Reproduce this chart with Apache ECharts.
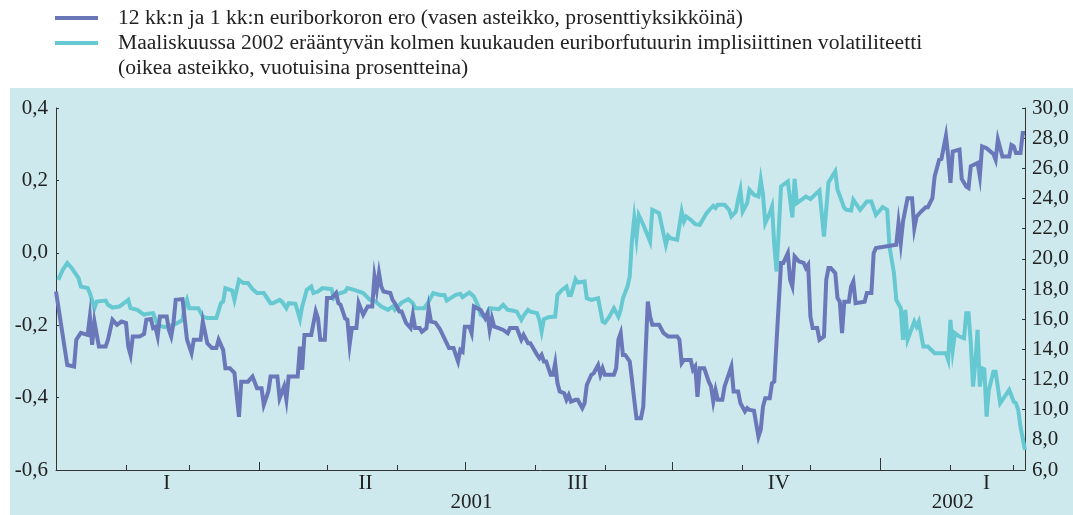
<!DOCTYPE html>
<html>
<head>
<meta charset="utf-8">
<script src="https://cdn.jsdelivr.net/npm/echarts@6/dist/echarts.min.js"></script>
<style>html,body{margin:0;padding:0;background:#fff}#c{width:1073px;height:515px}</style>
</head>
<body>
<div id="c"></div>
<script>
// ---- DATA ----
const startDate = '2001-01-01';
const endDate = '2002-03-06';
const spreadName = '12 kk:n ja 1 kk:n euriborkoron ero (vasen asteikko, prosenttiyksikköinä)';
const volName = 'Maaliskuussa 2002 erääntyvän kolmen kuukauden euriborfutuurin implisiittinen volatiliteetti';
const volNameLine2 = '(oikea asteikko, vuotuisina prosentteina)';

// [days since startDate, percentage points] – left scale
const spreadData = [
[0,-0.107],[5,-0.31],[8,-0.314],[9,-0.24],[11,-0.221],[14,-0.227],[15,-0.176],[16,-0.254],[17,-0.19],[19,-0.259],
[22,-0.259],[23,-0.24],[25,-0.185],[27,-0.199],[29,-0.19],[31,-0.194],[32,-0.259],[33,-0.282],[34,-0.231],[37,-0.231],
[39,-0.224],[40,-0.185],[42,-0.183],[43,-0.208],[44,-0.205],[45,-0.231],[46,-0.176],[49,-0.176],[50,-0.213],[51,-0.231],
[52,-0.194],[53,-0.13],[56,-0.128],[58,-0.24],[60,-0.277],[61,-0.24],[64,-0.24],[65,-0.19],[67,-0.25],[69,-0.263],
[71,-0.263],[72,-0.24],[74,-0.268],[75,-0.319],[77,-0.319],[79,-0.332],[81,-0.453],[82,-0.356],[85,-0.356],[87,-0.342],
[89,-0.374],[91,-0.374],[92,-0.42],[94,-0.383],[95,-0.342],[98,-0.342],[99,-0.402],[101,-0.369],[102,-0.406],[103,-0.342],
[107,-0.342],[108,-0.259],[109,-0.323],[110,-0.227],[113,-0.227],[115,-0.162],[116,-0.181],[117,-0.24],[119,-0.24],[120,-0.125],
[122,-0.125],[124,-0.111],[125,-0.139],[126,-0.144],[128,-0.181],[129,-0.185],[130,-0.254],[131,-0.208],[133,-0.208],[134,-0.139],
[136,-0.171],[138,-0.148],[140,-0.148],[141,-0.065],[142,-0.102],[143,-0.056],[144,-0.093],[145,-0.107],[148,-0.111],[149,-0.13],
[150,-0.139],[152,-0.162],[153,-0.162],[155,-0.194],[157,-0.208],[158,-0.171],[159,-0.208],[161,-0.208],[162,-0.218],[164,-0.208],
[165,-0.153],[166,-0.19],[168,-0.193],[170,-0.211],[173,-0.25],[174,-0.263],[176,-0.263],[178,-0.3],[179,-0.268],[180,-0.273],
[181,-0.204],[183,-0.204],[184,-0.222],[185,-0.148],[188,-0.158],[190,-0.181],[191,-0.167],[192,-0.213],[193,-0.181],[194,-0.204],
[196,-0.208],[198,-0.213],[200,-0.222],[201,-0.208],[204,-0.208],[206,-0.24],[207,-0.227],[209,-0.25],[210,-0.25],[213,-0.282],
[214,-0.291],[215,-0.282],[216,-0.3],[217,-0.3],[219,-0.337],[220,-0.337],[221,-0.305],[222,-0.36],[223,-0.383],[225,-0.388],
[226,-0.406],[227,-0.393],[228,-0.411],[230,-0.406],[231,-0.406],[233,-0.429],[234,-0.416],[235,-0.365],[237,-0.337],[238,-0.333],
[240,-0.31],[241,-0.337],[242,-0.319],[243,-0.337],[247,-0.337],[248,-0.319],[249,-0.24],[250,-0.222],[251,-0.282],[252,-0.282],
[254,-0.3],[255,-0.351],[256,-0.406],[257,-0.457],[259,-0.457],[260,-0.425],[262,-0.135],[263,-0.175],[264,-0.199],[267,-0.199],
[269,-0.222],[271,-0.231],[275,-0.231],[276,-0.24],[277,-0.305],[278,-0.296],[281,-0.296],[282,-0.323],[283,-0.314],[284,-0.398],
[285,-0.319],[287,-0.319],[289,-0.356],[290,-0.369],[291,-0.411],[292,-0.379],[293,-0.406],[295,-0.406],[296,-0.369],[299,-0.314],
[300,-0.383],[302,-0.383],[303,-0.415],[305,-0.438],[306,-0.429],[307,-0.434],[309,-0.436],[311,-0.508],[312,-0.489],[313,-0.425],
[314,-0.402],[316,-0.402],[317,-0.36],[318,-0.356],[321,-0.028],[322,-0.028],[324,-0.001],[325,-0.075],[326,-0.093],[327,-0.01],
[329,-0.024],[331,-0.028],[332,-0.042],[333,-0.033],[334,-0.176],[335,-0.208],[337,-0.208],[338,-0.24],[340,-0.231],[341,-0.075],
[342,-0.042],[343,-0.042],[345,-0.056],[346,-0.125],[347,-0.135],[348,-0.222],[349,-0.135],[351,-0.135],[352,-0.093],[353,-0.079],
[354,-0.139],[358,-0.135],[359,-0.111],[361,-0.111],[362,-0.001],[363,0.013],[372,0.022],[373,0.082],[374,0.027],[375,0.087],
[377,0.151],[379,0.151],[380,0.068],[381,0.1],[383,0.114],[385,0.126],[386,0.126],[388,0.151],[389,0.211],[391,0.257],
[392,0.259],[394,0.323],[395,0.266],[396,0.193],[397,0.28],[400,0.285],[401,0.204],[403,0.183],[404,0.179],[405,0.239],
[408,0.248],[409,0.211],[410,0.294],[412,0.289],[415,0.273],[416,0.257],[417,0.313],[419,0.266],[422,0.266],[423,0.298],
[424,0.294],[425,0.276],[427,0.276],[428,0.331],[429,0.331]
];

// [days since startDate, % p.a.] – right scale
const volData = [
[1,18.61],[3,19.27],[5,19.72],[7,19.38],[9,18.94],[10,18.72],[11,18.16],[14,18.06],[15,17.73],[17,16.73],
[18,17.17],[22,17.23],[23,16.95],[25,16.77],[28,16.84],[31,17.17],[32,17.28],[33,16.73],[36,16.62],[39,16.29],
[40,16.35],[43,16.4],[44,16.0],[45,15.62],[48,15.47],[50,15.56],[52,15.62],[54,15.77],[56,15.95],[57,16.84],
[58,17.28],[59,16.73],[63,16.73],[65,16.17],[67,16.07],[71,16.07],[73,17.06],[74,17.17],[75,18.06],[78,17.9],
[79,17.28],[81,18.61],[83,18.39],[85,18.39],[87,17.99],[89,17.73],[92,17.73],[95,17.06],[96,17.06],[99,17.28],
[100,17.17],[102,16.73],[103,17.06],[106,17.02],[108,16.0],[109,16.84],[111,17.94],[113,18.16],[114,17.73],[116,17.83],
[118,18.06],[122,17.99],[123,17.39],[125,17.68],[128,17.83],[129,18.06],[132,17.94],[136,17.73],[139,17.28],[141,17.23],
[144,16.84],[147,16.62],[149,16.84],[150,16.62],[153,17.1],[156,17.33],[158,17.06],[159,16.73],[163,16.73],[165,17.17],
[167,17.73],[170,17.61],[172,17.61],[173,17.23],[177,17.61],[179,17.68],[180,17.46],[183,17.77],[185,17.5],[187,16.84],
[188,16.29],[190,16.13],[191,16.22],[192,16.73],[196,16.66],[198,16.95],[200,16.62],[202,16.57],[204,16.5],[206,15.95],
[207,16.22],[209,16.62],[210,16.5],[213,16.4],[214,15.95],[215,15.18],[216,16.0],[218,16.13],[221,16.17],[222,17.61],
[224,17.94],[226,18.16],[227,17.61],[228,17.61],[230,18.65],[231,18.43],[234,18.5],[235,17.39],[237,17.28],[240,17.39],
[242,15.84],[243,15.77],[245,16.17],[247,16.73],[249,16.17],[250,16.62],[251,17.39],[253,18.16],[254,18.83],[255,21.26],
[256,22.7],[257,21.4],[258,22.9],[260,22.26],[263,21.15],[264,23.25],[267,23.03],[270,20.93],[271,21.53],[272,21.37],
[275,21.26],[277,23.14],[278,22.48],[279,22.81],[281,22.59],[283,22.3],[285,22.26],[288,23.03],[290,23.37],[291,23.52],
[292,23.37],[293,23.58],[296,23.58],[298,23.25],[299,22.81],[301,23.14],[302,23.92],[303,24.58],[304,23.14],[306,23.7],
[307,24.58],[309,24.25],[311,24.13],[312,25.24],[313,24.25],[314,22.37],[316,23.03],[317,23.47],[318,20.93],[319,19.16],
[320,21.93],[321,24.8],[324,25.13],[326,22.75],[327,25.3],[328,23.7],[332,24.13],[334,23.96],[336,24.25],[338,24.53],
[340,21.48],[342,25.06],[345,25.79],[346,24.58],[349,23.37],[350,23.25],[352,23.2],[353,23.92],[356,23.25],[359,23.8],
[361,23.8],[363,22.92],[366,23.43],[368,23.25],[369,20.82],[371,19.05],[372,17.28],[374,16.73],[375,14.63],[376,16.62],
[377,14.63],[380,15.84],[381,15.51],[382,15.84],[384,14.18],[386,14.18],[389,13.74],[394,13.74],[395,13.3],[396,15.95],
[397,13.96],[398,15.07],[400,14.85],[402,14.74],[403,16.4],[404,16.4],[405,14.41],[406,11.53],[407,13.08],[408,15.29],
[409,11.53],[410,12.75],[411,12.68],[412,9.54],[413,11.31],[415,12.52],[416,12.52],[418,10.43],[420,10.87],[422,11.31],
[424,10.53],[425,10.43],[426,9.98],[427,8.87],[429,7.33]
];

const monthTicks = ['2001-02-01','2001-03-01','2001-05-01','2001-06-01','2001-08-01','2001-09-01','2001-11-01','2001-12-01','2002-02-01','2002-03-01'];
const quarterTicks = ['2001-04-01','2001-07-01','2001-10-01'];
const yearTicks = ['2002-01-01'];
const quarterLabels = ['I','II','III','IV','I'];
const quarterLabelDates = ['2001-02-19','2001-05-18','2001-08-20','2001-11-17','2002-02-17'];
const yearLabels = ['2001','2002'];
const yearLabelDates = ['2001-07-04','2002-02-02'];

// ---- helpers ----
const DAY = 86400000;
function parseDate(s){ const p = s.split('-').map(Number); return Date.UTC(p[0], p[1]-1, p[2]); }
const T0 = parseDate(startDate);
const toXY = a => [T0 + a[0]*DAY, a[1]];
function labelFor(times, labels){
  return function(v){
    for (let i=0;i<times.length;i++){ if (Math.abs(times[i]-v) < DAY/2) return labels[i]; }
    return '';
  };
}
const FONT = '"Liberation Serif","Times New Roman",serif';
const AX = '#333';
const TXT = '#222';
const FS = 21;
const LFS = 21.6;
const comma = v => (Math.abs(v) < 1e-9 ? 0 : v).toFixed(1).replace('.', ',');

const qTimes = quarterLabelDates.map(parseDate);
const yTimes = yearLabelDates.map(parseDate);
const xMin = parseDate(startDate), xMax = parseDate(endDate);

const chart = echarts.init(document.getElementById('c'), null, {renderer:'canvas'});
chart.setOption({
  animation: false,
  backgroundColor: '#ffffff',
  graphic: [
    {type:'rect', left:10, top:88, z:-100, shape:{width:1063, height:427}, style:{fill:'#cde9ed'}},
    {type:'text', left:118, top:57, style:{text: volNameLine2, font: LFS + 'px ' + FONT, fill:TXT}}
  ],
  legend: {
    data: [spreadName, volName],
    orient: 'vertical', left: 50, top: 2,
    itemWidth: 43, itemHeight: 4, itemGap: 3, icon: 'rect',
    textStyle: {fontFamily: FONT, fontSize: LFS, color: TXT, lineHeight: 22, padding: [0,0,0,15]}
  },
  grid: {left: 56, right: 48, top: 108, bottom: 45},
  xAxis: [
    {type:'value', position:'bottom', min:xMin, max:xMax, scale:true,
     axisLine:{show:true, onZero:false, lineStyle:{color:AX, width:1}},
     axisTick:{show:true, inside:true, length:5, lineStyle:{color:AX}, customValues: monthTicks.map(parseDate)},
     axisLabel:{show:true, customValues: qTimes, formatter: labelFor(qTimes, quarterLabels), margin: 3, fontFamily:FONT, fontSize:FS, color:TXT},
     splitLine:{show:false}},
    {type:'value', position:'bottom', min:xMin, max:xMax, scale:true,
     axisLine:{show:false, onZero:false},
     axisTick:{show:true, inside:true, length:12, lineStyle:{color:AX}, customValues: yearTicks.map(parseDate)},
     axisLabel:{show:true, customValues: yTimes, formatter: labelFor(yTimes, yearLabels), margin: 22, fontFamily:FONT, fontSize:FS, color:TXT},
     splitLine:{show:false}},
    {type:'value', position:'bottom', min:xMin, max:xMax, scale:true,
     axisLine:{show:false, onZero:false},
     axisTick:{show:true, inside:true, length:8, lineStyle:{color:AX}, customValues: quarterTicks.map(parseDate)},
     axisLabel:{show:false}, splitLine:{show:false}}
  ],
  yAxis: [
    {type:'value', position:'left', min:-0.6, max:0.4, interval:0.2,
     axisLine:{show:true, onZero:false, lineStyle:{color:AX}},
     axisTick:{show:true, inside:true, length:3, lineStyle:{color:AX}},
     axisLabel:{formatter: comma, margin: 8, fontFamily:FONT, fontSize:FS, color:TXT},
     splitLine:{show:false}},
    {type:'value', position:'right', min:6, max:30, interval:2,
     axisLine:{show:true, onZero:false, lineStyle:{color:AX}},
     axisTick:{show:true, inside:true, length:3, lineStyle:{color:AX}},
     axisLabel:{formatter: comma, margin: 7, fontFamily:FONT, fontSize:FS, color:TXT},
     splitLine:{show:false}}
  ],
  series: [
    {name: volName, type:'line', xAxisIndex:0, yAxisIndex:1, data: volData.map(toXY),
     showSymbol:false, symbol:'none', lineStyle:{width:4, color:'#66c8d1', join:'miter'}, itemStyle:{color:'#66c8d1'}, z:2},
    {name: spreadName, type:'line', xAxisIndex:0, yAxisIndex:0, data: spreadData.map(toXY),
     showSymbol:false, symbol:'none', lineStyle:{width:4, color:'#6a77b8', join:'miter'}, itemStyle:{color:'#6a77b8'}, z:3}
  ]
});
</script>
</body>
</html>
